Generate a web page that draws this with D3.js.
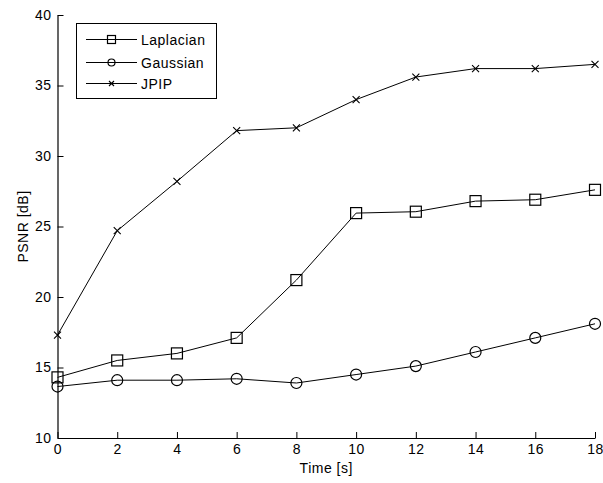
<!DOCTYPE html>
<html>
 <head>
 <meta charset="UTF-8">
 <style type="text/css">
  body { margin: 0; background: #fff; }
  text { font-family: "Liberation Sans", Arial, sans-serif; font-size: 14px; letter-spacing: 0.5px; fill: #000; }
 </style>
 <script src="https://d3js.org/d3.v7.min.js"></script>
 </head>
 <body>
 <script type="text/javascript">

    // values
    var times = [0, 2, 4, 6, 8, 10, 12, 14, 16, 18];
    var laplacian = [14.3, 15.5, 16.0, 17.1, 21.2, 25.95, 26.05, 26.8, 26.9, 27.6];
    var gaussian = [13.65, 14.1, 14.1, 14.2, 13.9, 14.5, 15.1, 16.1, 17.1, 18.1];
    var jpip = [17.3, 24.7, 28.2, 31.8, 32.0, 34.0, 35.6, 36.2, 36.2, 36.5];
    var xTicks = [0, 2, 4, 6, 8, 10, 12, 14, 16, 18];
    var yTicks = [10, 15, 20, 25, 30, 35, 40];

    var series = [
        {name: "Laplacian", values: laplacian, marker: "square"},
        {name: "Gaussian", values: gaussian, marker: "circle"},
        {name: "JPIP", values: jpip, marker: "cross"}
    ];

    var W = 603, H = 483;
    var margin = {top: 15, right: 8, bottom: 45, left: 57.5};

    var svg = d3.select("body").append("svg")
        .attr("width", W)
        .attr("height", H);

    var x = d3.scaleLinear().domain([0, 18]).range([margin.left, W - margin.right]);
    var y = d3.scaleLinear().domain([10, 40]).range([H - margin.bottom, margin.top]);

    // axes, ticks pointing inward like matlab
    var xAxis = svg.append("g")
        .attr("transform", "translate(0," + y(10) + ")")
        .call(d3.axisBottom(x).tickValues(xTicks).tickSizeInner(-6).tickSizeOuter(0).tickPadding(6));
    var yAxis = svg.append("g")
        .attr("transform", "translate(" + x(0) + ",0)")
        .call(d3.axisLeft(y).tickValues(yTicks).tickSizeInner(-6).tickSizeOuter(0).tickPadding(6));

    [xAxis, yAxis].forEach(function(g) {
        g.attr("font-size", null).attr("font-family", null);
        g.select(".domain").attr("stroke", "#000").attr("stroke-width", 1.2);
        g.selectAll(".tick line").attr("stroke", "#000");
        g.selectAll("text").attr("fill", "#000");
    });

    svg.append("text")
        .attr("x", (x(0) + x(18)) / 2)
        .attr("y", 473)
        .attr("text-anchor", "middle")
        .text("Time [s]");

    svg.append("text")
        .attr("transform", "translate(28," + (y(25)) + ") rotate(-90)")
        .attr("text-anchor", "middle")
        .text("PSNR [dB]");

    var line = d3.line()
        .x(function(d, i) { return x(times[i]); })
        .y(function(d) { return y(d); });

    function drawMarker(g, type, cx, cy, s) {
        if (type == "square") {
            g.append("rect").attr("x", cx - s / 2).attr("y", cy - s / 2)
                .attr("width", s).attr("height", s)
                .attr("fill", "none").attr("stroke", "#000").attr("stroke-width", 1.2);
        } else if (type == "circle") {
            g.append("circle").attr("cx", cx).attr("cy", cy).attr("r", s / 2)
                .attr("fill", "none").attr("stroke", "#000").attr("stroke-width", 1.2);
        } else {
            var h = s / 2;
            g.append("path")
                .attr("d", "M" + (cx - h) + "," + (cy - h) + "L" + (cx + h) + "," + (cy + h) +
                    "M" + (cx - h) + "," + (cy + h) + "L" + (cx + h) + "," + (cy - h))
                .attr("stroke", "#000").attr("stroke-width", 1.1);
        }
    }

    var sizes = {square: 11, circle: 11, cross: 7};

    series.forEach(function(s) {
        var g = svg.append("g");
        g.append("path")
            .attr("d", line(s.values))
            .attr("fill", "none")
            .attr("stroke", "#000")
            .attr("stroke-width", 1);
        s.values.forEach(function(v, i) {
            drawMarker(g, s.marker, x(times[i]), y(v), sizes[s.marker]);
        });
    });

    // legend
    var leg = svg.append("g");
    leg.append("rect")
        .attr("x", 76.5).attr("y", 23.5)
        .attr("width", 140).attr("height", 75)
        .attr("fill", "#fff").attr("stroke", "#000").attr("stroke-width", 1);

    var legSizes = {square: 8, circle: 7, cross: 5};
    var rowY = [39.5, 62.5, 83.5];
    series.forEach(function(s, i) {
        leg.append("line")
            .attr("x1", 86).attr("x2", 137)
            .attr("y1", rowY[i]).attr("y2", rowY[i])
            .attr("stroke", "#000").attr("stroke-width", 1);
        drawMarker(leg, s.marker, 111.5, rowY[i], legSizes[s.marker]);
        leg.append("text")
            .attr("x", 141)
            .attr("y", rowY[i] + 5)
            .text(s.name);
    });

 </script>
 </body>
</html>
